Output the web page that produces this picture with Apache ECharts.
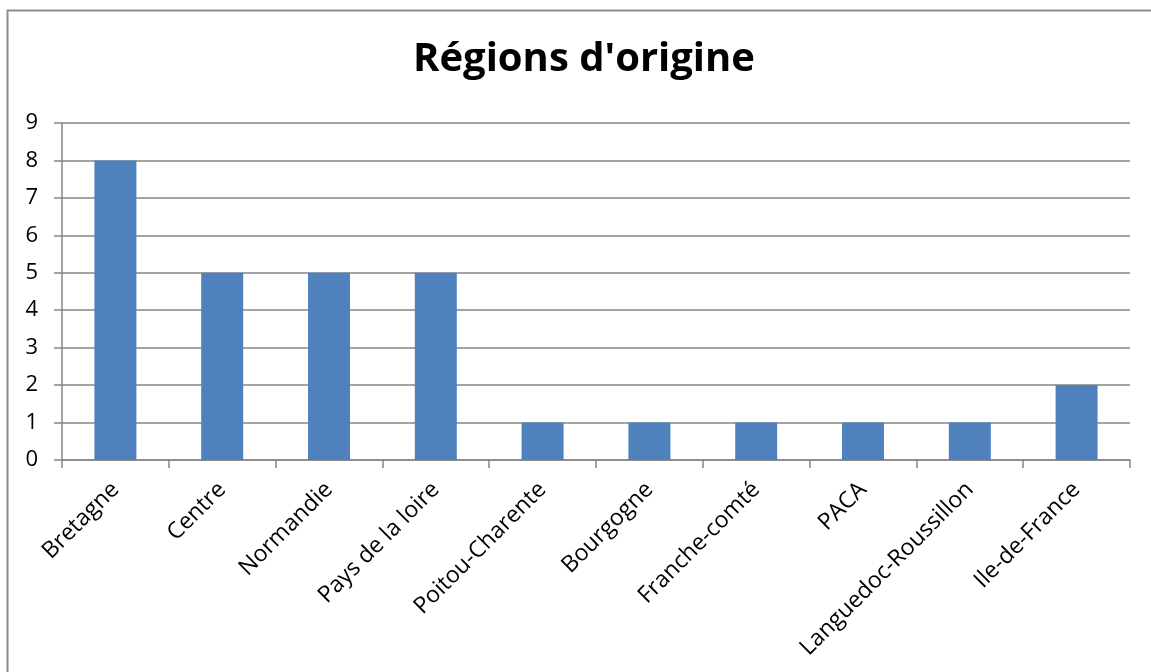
<!DOCTYPE html>
<html lang="fr">
<head>
<meta charset="UTF-8">
<title>Régions d'origine</title>
<script src="https://cdn.jsdelivr.net/npm/echarts@6/dist/echarts.min.js"></script>
<style>
html, body { margin: 0; padding: 0; background: #fff; }
#chart { width: 1151px; height: 672px; }
</style>
</head>
<body>
<div id="chart"></div>
<script>
const regions = ['Bretagne', 'Centre', 'Normandie', 'Pays de la loire', 'Poitou-Charente',
  'Bourgogne', 'Franche-comté', 'PACA', 'Languedoc-Roussillon', 'Ile-de-France'];
const counts = [8, 5, 5, 5, 1, 1, 1, 1, 1, 2];
const yTicks = [0, 1, 2, 3, 4, 5, 6, 7, 8, 9];

const chart = echarts.init(document.getElementById('chart'));
const axisGray = '#868686';
const font = "'Open Sans', sans-serif";

chart.setOption({
  animation: false,
  textStyle: { fontFamily: font },
  title: {
    text: "Régions d'origine",
    left: 408,
    top: 35,
    textStyle: { fontFamily: font, fontWeight: 'bold', fontSize: 40, color: '#000' }
  },
  graphic: [{
    type: 'rect',
    shape: { x: 7.5, y: 10.5, width: 1300, height: 800 },
    style: { fill: 'none', stroke: '#8c8c8c', lineWidth: 2 },
    silent: true
  }],
  grid: { left: 62, right: 21, top: 123, bottom: 212 },
  xAxis: {
    type: 'category',
    data: regions,
    axisLine: { lineStyle: { color: axisGray, width: 1.5 } },
    axisTick: { show: true, length: 8, lineStyle: { color: axisGray, width: 1.5 } },
    axisLabel: { rotate: 45, fontSize: 23, color: '#000', margin: 26, fontFamily: font }
  },
  yAxis: {
    type: 'value',
    min: yTicks[0],
    max: yTicks[yTicks.length - 1],
    interval: 1,
    axisLine: { show: true, lineStyle: { color: axisGray, width: 1.5 } },
    axisTick: { show: true, length: 8, lineStyle: { color: axisGray, width: 1.5 } },
    splitLine: { lineStyle: { color: axisGray, width: 1.5 } },
    axisLabel: { fontSize: 22, color: '#000', margin: 24, fontFamily: font }
  },
  series: [{
    type: 'bar',
    data: counts,
    barWidth: 42,
    itemStyle: { color: '#4F81BD' }
  }]
});
</script>
</body>
</html>
